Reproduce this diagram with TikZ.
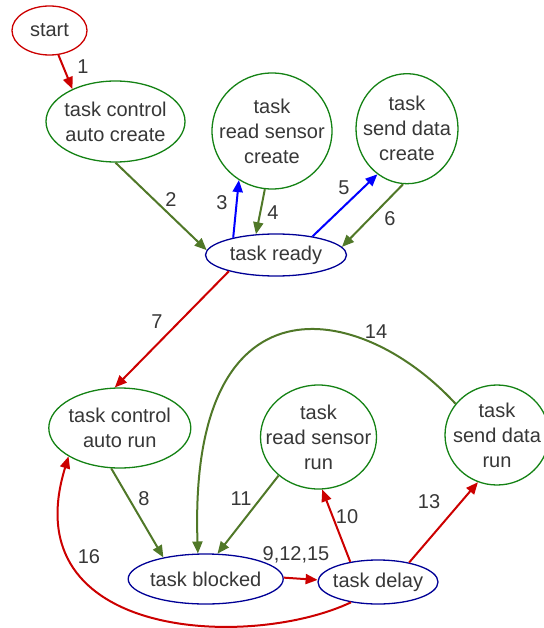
\documentclass[tikz,border=0pt]{standalone}
\usepackage{fontspec}
\setmainfont{Liberation Sans}
\usetikzlibrary{shapes.geometric,arrows.meta}
\definecolor{cred}{RGB}{204,0,0}
\definecolor{egreen}{RGB}{80,120,40}
\definecolor{bgreen}{RGB}{20,130,20}
\definecolor{navy}{RGB}{0,0,150}
\definecolor{cblue}{RGB}{0,0,255}
\definecolor{tgray}{RGB}{55,55,55}
\begin{document}
\begin{tikzpicture}[x=1pt,y=-1pt,
  txt/.style={font=\fontsize{20pt}{25pt}\selectfont,text=tgray,align=center,inner sep=0pt},
  state/.style={ellipse,line width=1.3pt,inner sep=0pt,fill=white},
  gstate/.style={state,draw=bgreen},
  bstate/.style={state,draw=navy},
  rstate/.style={state,draw=cred},
  num/.style={txt},
  edge/.style={line width=2pt,-{Triangle[length=12pt,width=10pt]}},
  redE/.style={edge,draw=cred},
  greenE/.style={edge,draw=egreen},
  blueE/.style={edge,draw=cblue}]
\useasboundingbox (0,0) rectangle (543,628);

% nodes
\node[rstate,minimum width=75pt,minimum height=49pt,label={[txt]center:{start}}] (st) at (49.5,30.5) {};
\node[gstate,minimum width=139pt,minimum height=81pt,label={[txt]center:{task control\\auto create}}] (cac) at (115.5,121.5) {};
\node[gstate,minimum width=120pt,minimum height=116pt,label={[txt]center:{task\\read sensor\\create}}] (rsc) at (272,131) {};
\node[gstate,minimum width=102pt,minimum height=110pt,label={[txt]center:{task\\send data\\create}}] (sdc) at (407,128.7) {};
\node[bstate,minimum width=141pt,minimum height=42pt,label={[txt]center:{task ready}}] (tr) at (276,255) {};
\node[gstate,minimum width=142pt,minimum height=80pt,label={[txt]center:{task control\\auto run}}] (car) at (119.8,428) {};
\node[gstate,minimum width=116pt,minimum height=104pt,label={[txt]center:{task\\read sensor\\run}}] (rsr) at (318.5,437) {};
\node[gstate,minimum width=104pt,minimum height=100pt,label={[txt]center:{task\\send data\\run}}] (sdr) at (497,435) {};
\node[bstate,minimum width=155pt,minimum height=50pt,label={[txt]center:{task blocked}}] (tb) at (205.7,579) {};
\node[bstate,minimum width=120pt,minimum height=44pt,label={[txt]center:{task delay}}] (td) at (378,582) {};

% connectors
\draw[redE] (st.-70) -- (cac.143);
\draw[greenE] (cac.-90) -- (tr.176);
\draw[blueE] (tr.158) -- (rsc.-124);
\draw[greenE] (rsc.-97) -- (tr.134);
\draw[blueE] (tr.27) -- (sdc.-123);
\draw[greenE] (sdc.-94) -- (tr.7);
\draw[redE] (tr.-161) -- (car.97);
\draw[greenE] (car.-102) -- (tb.153);
\draw[greenE] (rsr.-136) -- (tb.65);
\draw[redE] (tb.1) -- (td.178);
\draw[redE] (td.144) -- (rsr.-86);
\draw[redE] (td.32) -- (sdr.-112);
\draw[greenE] (sdr.143) .. controls (360,300) and (188,270) .. (tb.107);
\draw[redE] (td.-143) .. controls (250,650) and (12,640) .. (car.-151);

% connector labels
\node[num] (l1) at (83,67) {1};
\node[num] (l2) at (171,200) {2};
\node[num] (l3) at (222,203) {3};
\node[num] (l4) at (273,213) {4};
\node[num] (l5) at (344,188) {5};
\node[num] (l6) at (390,219) {6};
\node[num] (l7) at (157,322) {7};
\node[num] (l8) at (144,499) {8};
\node[num] (l11) at (241,499) {11};
\node[num] (l10) at (347,517) {10};
\node[num] (l13) at (429,502) {13};
\node[num] (l14) at (376,332) {14};
\node[num] (l16) at (89,557) {16};
\node[num] (l9) at (296,555) {9,12,15};
\end{tikzpicture}
\end{document}
